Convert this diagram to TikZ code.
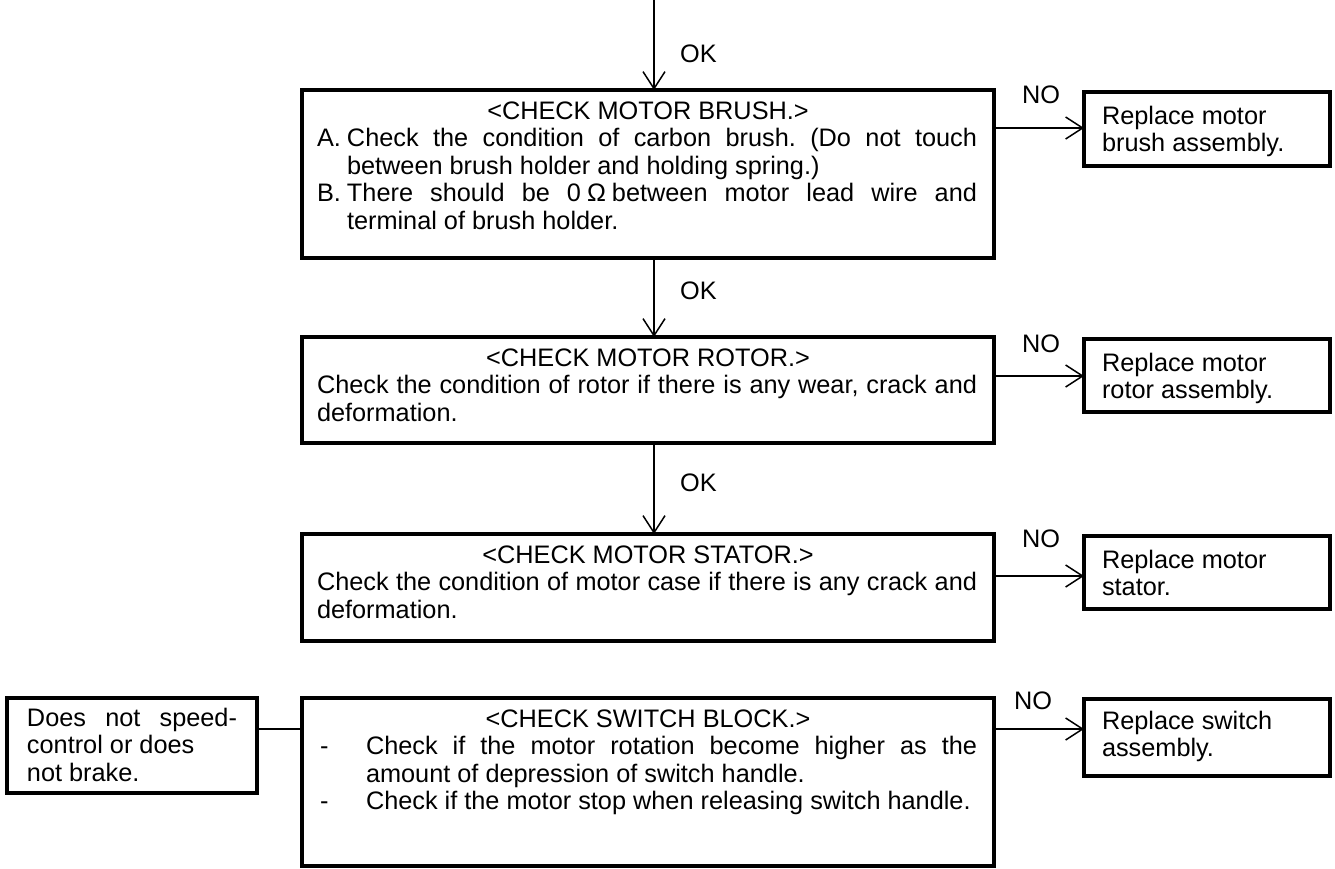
\documentclass[tikz,border=0pt]{standalone}
\usepackage{fontspec}
\setmainfont{Liberation Sans}
\usetikzlibrary{arrows.meta}
\newcommand\fcbox[4]{\vbox to #2pt{\hsize=#1pt\relax\baselineskip=27.5pt\lineskiplimit=-100pt\lineskip=0pt\parindent=0pt\frenchspacing\hbox{}\vskip\dimexpr#3pt-27.5pt\relax #4\vfil}}
\newcommand\cln[1]{\hbox to \hsize{\hfil#1\hfil}}
\newcommand\lln[2]{\hbox to \hsize{\hskip#1pt\relax #2\hfil}}
\newcommand\jln[3]{\hbox to \hsize{\hskip#1pt\relax\hbox to #2pt{#3}\hfil}}
\newcommand\ilbl[4]{\hbox to \hsize{\hskip15pt\relax\hbox to #1pt{#2\hfil}\hbox to #3pt{#4}\hfil}}
\newcommand\dln[3]{\hbox to \hsize{\hskip15pt\relax\hbox to #1pt{#2\hfil}#3\hfil}}
\begin{document}
\begin{tikzpicture}[x=1pt,y=-1pt,font=\fontsize{25.3}{27.5}\selectfont,
  fcbox/.style={draw,line width=3.3pt,inner sep=0pt,outer sep=0pt,anchor=north west},
  conn/.style={line width=1.5pt},
  arr/.style={conn,-{Straight Barb[length=17pt,width=22pt,line width=1.5pt]}},
  lbl/.style={inner sep=0pt,anchor=base west},
  nolbl/.style={inner sep=0pt,anchor=base}]
\fill[white] (0,0) rectangle (1335,868);
\useasboundingbox (0,0) rectangle (1335,868);

\node[fcbox] (b1) at (302,90) {\fcbox{692}{168}{29}{%
  \cln{<CHECK MOTOR BRUSH.>}%
  \ilbl{30}{A.}{630}{Check the condition of carbon brush. (Do not touch}%
  \lln{45}{between brush holder and holding spring.)}%
  \ilbl{30}{B.}{630}{There should be 0\kern6pt Ω\kern6pt between motor lead wire and}%
  \lln{45}{terminal of brush holder.}}};

\node[fcbox] (b2) at (302,337) {\fcbox{692}{106}{29}{%
  \cln{<CHECK MOTOR ROTOR.>}%
  \jln{15}{660}{Check the condition of rotor if there is any wear, crack and}%
  \lln{15}{deformation.}}};

\node[fcbox] (b3) at (302,534) {\fcbox{692}{107}{29}{%
  \cln{<CHECK MOTOR STATOR.>}%
  \jln{15}{660}{Check the condition of motor case if there is any crack and}%
  \lln{15}{deformation.}}};

\node[fcbox] (b4) at (302,698) {\fcbox{692}{168}{29}{%
  \cln{<CHECK SWITCH BLOCK.>}%
  \ilbl{49}{\hskip3pt-}{611}{Check if the motor rotation become higher as the}%
  \lln{64}{amount of depression of switch handle.}%
  \dln{49}{\hskip3pt-}{Check if the motor stop when releasing switch handle.}}};

\node[fcbox] (lb) at (7,698) {\fcbox{250}{95}{28}{%
  \jln{20}{210}{Does not speed-}%
  \lln{20}{control or does}%
  \lln{20}{not brake.}}};

\node[fcbox] (r1) at (1084,92) {\fcbox{246}{74}{32}{%
  \lln{18}{Replace motor}\lln{18}{brush assembly.}}};
\node[fcbox] (r2) at (1084,339) {\fcbox{246}{73}{32}{%
  \lln{18}{Replace motor}\lln{18}{rotor assembly.}}};
\node[fcbox] (r3) at (1084,536) {\fcbox{246}{73}{32}{%
  \lln{18}{Replace motor}\lln{18}{stator.}}};
\node[fcbox] (r4) at (1084,699) {\fcbox{246}{77}{30}{%
  \lln{18}{Replace switch}\lln{18}{assembly.}}};

\coordinate (topc) at (654,0);
\coordinate (a1) at (0,128);
\coordinate (a2) at (0,376);
\coordinate (a3) at (0,576);
\coordinate (a4) at (0,729);

\draw[arr] (topc) -- (topc |- b1.north);
\draw[arr] (b1.south -| topc) -- (b2.north -| topc);
\draw[arr] (b2.south -| topc) -- (b3.north -| topc);

\draw[arr] (b1.east |- a1) -- (r1.west |- a1);
\draw[arr] (b2.east |- a2) -- (r2.west |- a2);
\draw[arr] (b3.east |- a3) -- (r3.west |- a3);
\draw[arr] (b4.east |- a4) -- (r4.west |- a4);
\draw[conn] (lb.east |- a4) -- (b4.west |- a4);

\node[lbl] (ok1) at (680,62) {OK};
\node[lbl] (ok2) at (680,299) {OK};
\node[lbl] (ok3) at (680,491) {OK};

\node[nolbl] (no1) at (1041,103) {NO};
\node[nolbl] (no2) at (1041,352) {NO};
\node[nolbl] (no3) at (1041,547) {NO};
\node[nolbl] (no4) at (1033,709) {NO};
\end{tikzpicture}
\end{document}
